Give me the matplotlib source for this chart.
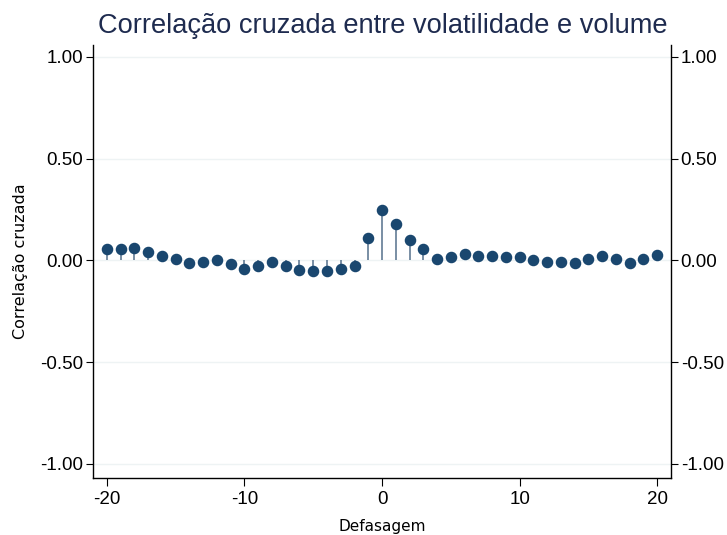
import numpy as np
import matplotlib
matplotlib.use("Agg")
import matplotlib.pyplot as plt

# cross-correlation between volatility and volume, lags -20..20
lags = list(range(-20, 21))
ccf = [0.056, 0.057, 0.062, 0.042, 0.021, 0.005, -0.013, -0.007, 0.002, -0.020,
       -0.041, -0.027, -0.008, -0.028, -0.048, -0.053, -0.053, -0.043, -0.027, 0.112,
       0.246, 0.177, 0.102, 0.054, 0.007, 0.017, 0.031, 0.022, 0.020, 0.015,
       0.017, 0.003, -0.008, -0.010, -0.011, 0.005, 0.023, 0.007, -0.011, 0.007,
       0.025]
yticks = [-1.0, -0.5, 0.0, 0.5, 1.0]
xticks = [-20, -10, 0, 10, 20]

navy = "#1a476f"

fig = plt.figure(figsize=(7.27, 5.35), dpi=100)
ax = fig.add_axes([0.128, 0.1065, 0.795, 0.81])

ax.vlines(lags, 0, ccf, color="#55708c", linewidth=1.1, zorder=2)
ax.plot(lags, ccf, "o", color=navy, markersize=7.3, zorder=3)

ax.set_xlim(-21, 21)
ax.set_ylim(-1.07, 1.06)
ax.set_yticks(yticks)
ax.set_xticks(xticks)
ax.set_yticklabels([f"{v:.2f}" for v in yticks], family="Liberation Sans", fontsize=13.5)
ax.set_xticklabels([str(v) for v in xticks], family="Liberation Sans", fontsize=13.5)
ax.grid(axis="y", color="#eef3f4", linewidth=1, zorder=0)

ax.spines["top"].set_visible(False)
for s in ["left", "right", "bottom"]:
    ax.spines[s].set_color("black")
    ax.spines[s].set_linewidth(1.0)
ax.tick_params(axis="y", direction="out", length=5, left=True, right=True,
               labelleft=True, labelright=True, pad=2)
ax.tick_params(axis="x", direction="out", length=6, pad=3)

fig.text(0.526, 0.951, "Correlação cruzada entre volatilidade e volume",
         family="Liberation Sans", fontsize=19.6, color="#1e2b4f",
         ha="center", va="center")
ax.set_ylabel("Correlação cruzada", family="DejaVu Sans", fontsize=11.5, labelpad=9)
ax.set_xlabel("Defasagem", family="DejaVu Sans", fontsize=11, labelpad=8)

fig.savefig("out.png", dpi=100, facecolor="white")
